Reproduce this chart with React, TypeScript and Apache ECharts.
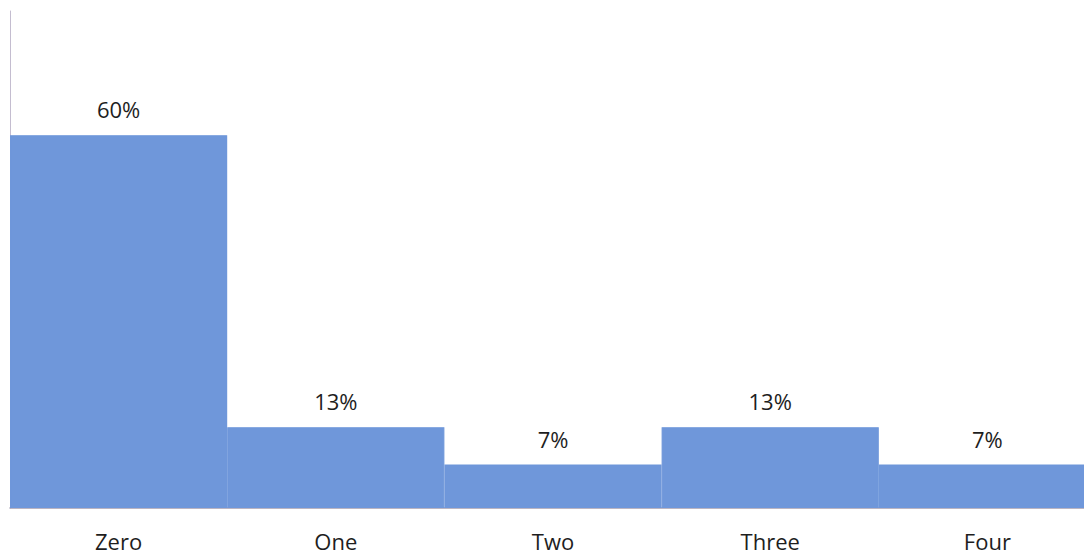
import React, { useEffect, useRef } from "react";
import * as echarts from "echarts";

const categories = ["Zero", "One", "Two", "Three", "Four"];
const percentValues = [60, 13, 7, 13, 7];
const yMax = 80;

export default function App() {
  const ref = useRef<HTMLDivElement>(null);
  useEffect(() => {
    document.body.style.margin = "0";
    document.body.style.overflow = "hidden";
    const chart = echarts.init(ref.current!, null, { renderer: "svg" });
    chart.setOption({
      animation: false,
      backgroundColor: "#ffffff",
      textStyle: { fontFamily: "Open Sans" },
      grid: { left: 10, right: 0, top: 11, bottom: 51, containLabel: false },
      xAxis: {
        type: "category",
        data: categories,
        axisLine: { show: true, lineStyle: { color: "#a49cae", width: 1.5 } },
        axisTick: { show: false },
        axisLabel: { color: "#1e1e1e", fontSize: 22, margin: 22, fontFamily: "Open Sans" },
      },
      yAxis: {
        type: "value",
        min: 0,
        max: yMax,
        axisLine: { show: true, lineStyle: { color: "#c4bdd0", width: 1 } },
        axisTick: { show: false },
        axisLabel: { show: false },
        splitLine: { show: false },
      },
      series: [
        {
          type: "bar",
          data: percentValues,
          barWidth: "100%",
          barGap: "0%",
          itemStyle: { color: "#6f97da", borderColor: "#6f97da", borderWidth: 1.2 },
          label: {
            show: true,
            position: "top",
            distance: 15,
            color: "#1e1e1e",
            fontSize: 22,
            fontFamily: "Open Sans",
            formatter: (p: any) => `${p.value}%`,
          },
        },
      ],
    });
    return () => chart.dispose();
  }, []);
  return (
    <div
      ref={ref}
      style={{ position: "fixed", left: 0, top: 0, width: 1096, height: 559 }}
    />
  );
}
